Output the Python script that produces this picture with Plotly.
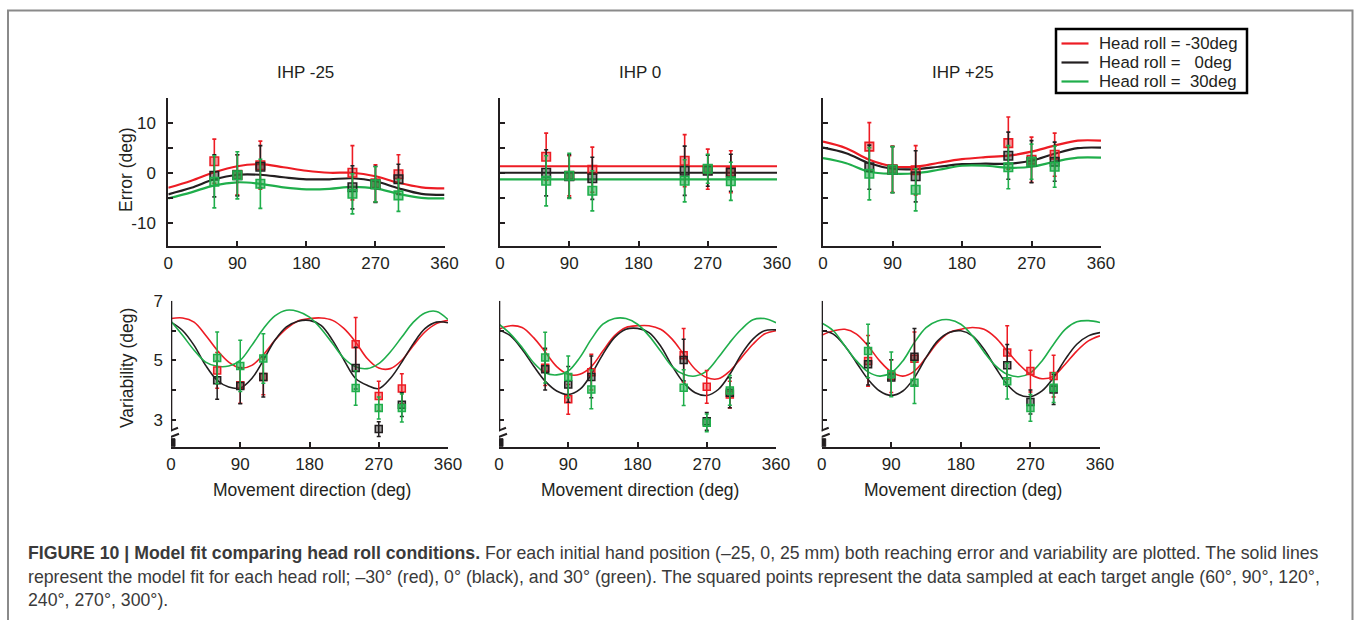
import plotly.graph_objects as go

W, H = 1356, 620

# ---------------- data ----------------
COND = ["Head roll = -30deg", "Head roll =\u00a0\u00a0\u00a00deg", "Head roll =\u00a0\u00a030deg"]
COLORS = ["#ed1c24", "#231f20", "#1fae4b"]
FILLS = ["rgba(237,28,36,0.45)", "rgba(35,31,32,0.45)", "rgba(31,174,75,0.55)"]
PANELS = ["IHP -25", "IHP 0", "IHP +25"]

targets = [60, 90, 120, 240, 270, 300]

# model fit, reaching error (deg)
err_dir = [0, 30, 60, 90, 120, 150, 180, 210, 240, 270, 300, 330, 360]
err_fit_m25 = [
    [-2.9, -1.5, 0.2, 1.4, 1.8, 1.2, 0.5, 0.1, 0.1, -0.6, -1.9, -2.8, -3.0],
    [-4.2, -2.9, -1.2, -0.3, -0.3, -0.8, -1.2, -1.2, -1.0, -1.6, -3.0, -4.1, -4.3],
    [-5.0, -3.8, -2.4, -1.8, -2.1, -2.8, -3.2, -3.1, -2.7, -3.0, -4.1, -4.9, -5.0],
]
err_fit_0 = [
    [1.4] * 13,
    [0.1] * 13,
    [-1.2] * 13,
]
err_fit_p25 = [
    [6.3, 5.0, 2.7, 1.4, 1.3, 2.1, 2.8, 3.2, 3.5, 4.3, 5.5, 6.5, 6.5],
    [5.1, 4.0, 2.0, 0.9, 0.8, 1.3, 1.8, 1.9, 1.9, 2.5, 3.9, 5.0, 5.1],
    [3.0, 2.0, 0.3, -0.1, 0.0, 0.7, 1.5, 1.5, 1.1, 1.3, 2.3, 3.1, 3.1],
]

# measured reaching error (mean, sd)
err_pts_m25 = [
    [2.4, -0.3, 1.6, 0.1, -2.0, -0.2],
    [-0.5, -0.4, 1.3, -2.8, -2.2, -1.2],
    [-1.7, -0.4, -2.1, -4.1, -2.2, -4.4],
]
err_sd_m25 = [
    [4.4, 4.0, 4.8, 5.4, 3.7, 3.9],
    [4.2, 4.1, 4.2, 4.3, 3.6, 3.0],
    [5.2, 4.7, 4.9, 4.0, 3.5, 3.2],
]
err_pts_0 = [
    [3.3, -0.5, 0.7, 2.5, 0.8, 0.3],
    [0.1, -0.6, -1.0, 0.5, 0.5, 0.1],
    [-1.5, -0.5, -3.5, -1.5, 0.9, -1.6],
]
err_sd_0 = [
    [4.7, 4.0, 4.5, 5.2, 4.0, 4.2],
    [4.6, 4.3, 4.2, 4.9, 3.1, 3.7],
    [5.0, 4.5, 4.0, 4.2, 2.9, 3.8],
]
err_pts_p25 = [
    [5.3, 0.8, 0.6, 6.0, 2.7, 3.7],
    [1.2, 0.7, -0.6, 3.5, 2.3, 2.3],
    [-0.1, 0.7, -3.3, 1.2, 2.3, 1.3],
]
err_sd_p25 = [
    [4.8, 4.6, 4.9, 5.2, 4.5, 4.3],
    [4.4, 4.6, 5.1, 4.7, 4.2, 3.9],
    [5.2, 4.6, 4.2, 4.3, 3.5, 4.1],
]

# model fit, variability (deg)
var_dir = [0, 15, 30, 45, 60, 75, 90, 105, 120, 135, 150, 165, 180,
           195, 210, 225, 240, 255, 270, 285, 300, 315, 330, 345, 360]
var_fit_m25 = [
    [6.40, 6.42, 6.28, 5.84, 5.34, 4.94, 4.74, 4.83, 5.19, 5.67, 6.06, 6.32, 6.40,
     6.42, 6.34, 6.06, 5.61, 5.06, 4.74, 4.72, 5.00, 5.50, 5.95, 6.23, 6.34],
    [6.28, 6.00, 5.50, 4.83, 4.33, 4.10, 4.07, 4.39, 5.00, 5.67, 6.12, 6.31, 6.34,
     6.17, 5.67, 5.00, 4.39, 4.16, 4.05, 4.39, 4.94, 5.56, 6.06, 6.28, 6.26],
    [6.31, 5.84, 5.34, 4.94, 4.80, 4.81, 5.00, 5.50, 6.06, 6.49, 6.68, 6.64, 6.45,
     6.06, 5.56, 5.06, 4.78, 4.72, 4.89, 5.28, 5.78, 6.28, 6.59, 6.64, 6.37],
]
var_fit_0 = [
    [6.04, 6.16, 6.10, 5.76, 5.28, 4.79, 4.53, 4.53, 4.79, 5.31, 5.82, 6.10, 6.16,
     6.16, 6.04, 5.71, 5.20, 4.70, 4.42, 4.38, 4.64, 5.09, 5.54, 5.88, 5.99],
    [6.02, 5.82, 5.37, 4.81, 4.30, 3.97, 3.85, 4.02, 4.53, 5.20, 5.76, 6.04, 6.07,
     5.93, 5.48, 4.81, 4.25, 3.91, 3.82, 4.02, 4.53, 5.20, 5.71, 5.99, 6.02],
    [6.21, 5.88, 5.43, 4.92, 4.58, 4.51, 4.64, 5.09, 5.71, 6.21, 6.40, 6.40, 6.21,
     5.82, 5.31, 4.79, 4.53, 4.47, 4.64, 5.09, 5.60, 6.04, 6.36, 6.40, 6.26],
]
var_fit_p25 = [
    [5.84, 5.99, 6.04, 5.88, 5.48, 4.98, 4.61, 4.47, 4.64, 5.09, 5.60, 5.93, 6.04,
     6.10, 6.04, 5.76, 5.31, 4.87, 4.53, 4.38, 4.47, 4.87, 5.31, 5.65, 5.82],
    [5.99, 5.88, 5.48, 4.92, 4.36, 3.97, 3.82, 3.97, 4.42, 5.09, 5.65, 5.93, 5.99,
     5.82, 5.37, 4.75, 4.19, 3.85, 3.78, 3.97, 4.42, 5.03, 5.54, 5.82, 5.93],
    [6.25, 5.99, 5.48, 4.98, 4.61, 4.47, 4.58, 4.98, 5.60, 6.10, 6.32, 6.36, 6.21,
     5.82, 5.28, 4.81, 4.53, 4.45, 4.58, 4.98, 5.54, 6.04, 6.29, 6.33, 6.27],
]

# measured variability (mean, sd)
var_pts_m25 = [
    [4.66, 4.16, 4.44, 5.54, 3.80, 4.05],
    [4.33, 4.14, 4.44, 4.74, 2.69, 3.51],
    [5.08, 4.81, 5.06, 4.07, 3.40, 3.40],
]
var_sd_m25 = [
    [0.60, 0.60, 0.60, 0.90, 0.50, 0.50],
    [0.64, 0.60, 0.67, 0.70, 0.25, 0.40],
    [0.87, 0.86, 0.83, 0.58, 0.37, 0.47],
]
var_pts_0 = [
    [4.75, 3.69, 4.60, 5.17, 4.11, 3.85],
    [4.70, 4.19, 4.44, 5.01, 2.95, 3.91],
    [5.09, 4.44, 4.02, 4.08, 2.90, 3.99],
]
var_sd_0 = [
    [0.60, 0.50, 0.60, 0.90, 0.55, 0.45],
    [0.70, 0.60, 0.70, 0.70, 0.30, 0.50],
    [0.85, 0.70, 0.65, 0.60, 0.30, 0.50],
]
var_pts_p25 = [
    [4.98, 4.47, 5.05, 5.26, 4.64, 4.47],
    [4.87, 4.42, 5.12, 4.83, 3.60, 4.02],
    [5.31, 4.53, 4.25, 4.30, 3.40, 4.08],
]
var_sd_p25 = [
    [0.85, 0.55, 0.90, 0.90, 0.70, 0.70],
    [0.70, 0.60, 0.95, 0.70, 0.40, 0.50],
    [0.90, 0.75, 0.70, 0.60, 0.45, 0.50],
]

err_ticks = [-10, -5, 0, 5, 10, 15]
err_ticktext = ["-10", "", "0", "", "10", ""]
var_ticks = [3, 4, 5, 6, 7]
var_ticktext = ["3", "", "5", "", "7"]
dir_ticks = [0, 90, 180, 270, 360]

# ---------------- layout helpers ----------------
def fx(px):
    return px / W


def fy(py):
    return 1 - py / H


AX = "#231f20"
FONT = "Liberation Sans, Arial, sans-serif"

top_x = [(168.3, 444.5), (500, 777), (823, 1101)]
bot_x = [(171, 448), (499, 776), (821.7, 1100)]
top_y = (98, 245.5)
bot_y = (300.7, 446.7)

fig = go.Figure()

err_fit = [err_fit_m25, err_fit_0, err_fit_p25]
err_pts = [err_pts_m25, err_pts_0, err_pts_p25]
err_sd = [err_sd_m25, err_sd_0, err_sd_p25]
var_fit = [var_fit_m25, var_fit_0, var_fit_p25]
var_pts = [var_pts_m25, var_pts_0, var_pts_p25]
var_sd = [var_sd_m25, var_sd_0, var_sd_p25]

for p in range(3):
    xt = "x" if p == 0 else f"x{p + 1}"
    yt = "y" if p == 0 else f"y{p + 1}"
    xb = f"x{p + 4}"
    yb = f"y{p + 4}"
    for c in range(3):
        fig.add_trace(go.Scatter(
            x=err_dir, y=err_fit[p][c], mode="lines", line=dict(color=COLORS[c], width=2.2, shape="spline"),
            xaxis=xt, yaxis=yt, name=COND[c], showlegend=False, cliponaxis=False,
            hoverinfo="skip"))
    for c in range(3):
        fig.add_trace(go.Scatter(
            x=targets, y=err_pts[p][c], mode="markers",
            marker=dict(symbol="square", size=8.5, color=FILLS[c], line=dict(color=COLORS[c], width=1.6)),
            error_y=dict(type="data", array=err_sd[p][c], color=COLORS[c], thickness=1.6, width=2),
            xaxis=xt, yaxis=yt, showlegend=False, cliponaxis=False))
    for c in range(3):
        fig.add_trace(go.Scatter(
            x=var_dir, y=var_fit[p][c], mode="lines", line=dict(color=COLORS[c], width=1.6, shape="spline"),
            xaxis=xb, yaxis=yb, showlegend=False, cliponaxis=False, hoverinfo="skip"))
    for c in range(3):
        fig.add_trace(go.Scatter(
            x=targets, y=var_pts[p][c], mode="markers",
            marker=dict(symbol="square", size=7, color=FILLS[c], line=dict(color=COLORS[c], width=1.5)),
            error_y=dict(type="data", array=var_sd[p][c], color=COLORS[c], thickness=1.5, width=2),
            xaxis=xb, yaxis=yb, showlegend=False, cliponaxis=False))

tickfont = dict(family=FONT, size=17, color=AX)
layout = dict(
    width=W, height=H, margin=dict(l=0, r=0, t=0, b=0, autoexpand=False),
    paper_bgcolor="white", plot_bgcolor="rgba(0,0,0,0)",
    font=dict(family=FONT, color=AX), showlegend=False,
)

for p in range(3):
    i_top = "" if p == 0 else str(p + 1)
    i_bot = str(p + 4)
    anchor_top = "y" if p == 0 else f"y{p + 1}"
    anchor_xtop = "x" if p == 0 else f"x{p + 1}"
    common_x = dict(range=[0, 360], tickvals=dir_ticks, ticks="inside", ticklen=5, tickwidth=1.5,
                    tickcolor=AX, showline=True, linecolor=AX, linewidth=2, showgrid=False,
                    zeroline=False, tickfont=tickfont, ticklabelstandoff=1, automargin=False)
    layout["xaxis" + i_top] = dict(common_x, domain=[fx(top_x[p][0]), fx(top_x[p][1])], anchor=anchor_top)
    layout["xaxis" + i_bot] = dict(common_x, domain=[fx(bot_x[p][0]), fx(bot_x[p][1])], anchor=f"y{p + 4}")
    layout["yaxis" + i_top] = dict(
        range=[-14.4, 15], domain=[fy(top_y[1]), fy(top_y[0])], anchor=anchor_xtop,
        tickvals=err_ticks, ticktext=err_ticktext if p == 0 else [""] * 6,
        ticks="inside", ticklen=5, tickwidth=1.5, tickcolor=AX, showline=True, linecolor=AX,
        linewidth=2, showgrid=False, zeroline=False, tickfont=tickfont, ticklabelstandoff=7,
        automargin=False)
    layout["yaxis" + i_bot] = dict(
        range=[2.1, 7], domain=[fy(bot_y[1]), fy(bot_y[0])], anchor=f"x{p + 4}",
        tickvals=var_ticks, ticktext=var_ticktext if p == 0 else [""] * 5,
        ticks="inside", ticklen=5, tickwidth=1.5, tickcolor=AX, showline=False,
        showgrid=False, zeroline=False, tickfont=tickfont, ticklabelstandoff=7, automargin=False)

fig.update_layout(**layout)

shapes = []
# broken y axes on variability panels
for p in range(3):
    xr = f"x{p + 4}"
    yr = f"y{p + 4}"
    shapes.append(dict(type="line", xref=xr, yref=yr, x0=0, x1=0, y0=2.62, y1=7,
                       line=dict(color=AX, width=2.6)))
    for (a0, b0, a1, b1) in ((-8, 13, 7, 19), (-7, 7, 8, 13)):
        shapes.append(dict(type="line", xref=xr, yref=yr, xsizemode="pixel", ysizemode="pixel",
                           xanchor=0, yanchor=2.1, x0=a0, x1=a1, y0=b0, y1=b1,
                           line=dict(color=AX, width=2)))
    shapes.append(dict(type="rect", xref=xr, yref=yr, xsizemode="pixel", ysizemode="pixel",
                       xanchor=0, yanchor=2.1, x0=-4, x1=4, y0=0, y1=8,
                       fillcolor=AX, line=dict(color=AX, width=1)))

# outer frame
shapes.append(dict(type="rect", xref="paper", yref="paper", x0=fx(8), x1=fx(1352.5), y0=fy(640), y1=fy(10.5),
                   line=dict(color="#8a8a8a", width=2), fillcolor="rgba(0,0,0,0)", layer="below"))

# legend box (drawn manually)
LEG = dict(x0=1056, x1=1247, y0=29, y1=93)
shapes.append(dict(type="rect", xref="paper", yref="paper", x0=fx(LEG["x0"]), x1=fx(LEG["x1"]),
                   y0=fy(LEG["y1"]), y1=fy(LEG["y0"]), line=dict(color="black", width=2.5),
                   fillcolor="white"))
leg_rows = [43.5, 62.5, 81.5]
for c in range(3):
    shapes.append(dict(type="line", xref="paper", yref="paper", x0=fx(1061.5), x1=fx(1088.5),
                       y0=fy(leg_rows[c]), y1=fy(leg_rows[c]), line=dict(color=COLORS[c], width=2.2)))
fig.update_layout(shapes=shapes)

ann = []
title_x = [305, 640, 963]
for p in range(3):
    ann.append(dict(text=PANELS[p], x=fx(title_x[p]), y=fy(73), xref="paper", yref="paper",
                    showarrow=False, font=dict(family=FONT, size=17, color=AX), xanchor="center", yanchor="middle"))
    ann.append(dict(text="Movement direction (deg)", x=fx((bot_x[p][0] + bot_x[p][1]) / 2 + 2), y=fy(490),
                    xref="paper", yref="paper", showarrow=False,
                    font=dict(family=FONT, size=17.5, color=AX), xanchor="center", yanchor="middle"))
ann.append(dict(text="Error (deg)", x=fx(126), y=fy(170), xref="paper", yref="paper", textangle=-90,
                showarrow=False, font=dict(family=FONT, size=17.5, color=AX), xanchor="center", yanchor="middle"))
ann.append(dict(text="Variability (deg)", x=fx(127), y=fy(368), xref="paper", yref="paper", textangle=-90,
                showarrow=False, font=dict(family=FONT, size=17.5, color=AX), xanchor="center", yanchor="middle"))
for c in range(3):
    ann.append(dict(text=COND[c], x=fx(1097), y=fy(leg_rows[c]), xref="paper", yref="paper",
                    showarrow=False, font=dict(family=FONT, size=16.8, color=AX), xanchor="left", yanchor="middle"))

cap = [
    "<b>FIGURE 10 | Model fit comparing head roll conditions.</b> For each initial hand position (\u201325, 0, 25 mm) both reaching error and variability are plotted. The solid lines",
    "represent the model fit for each head roll; \u201330\u00b0 (red), 0\u00b0 (black), and 30\u00b0 (green). The squared points represent the data sampled at each target angle (60\u00b0, 90\u00b0, 120\u00b0,",
    "240\u00b0, 270\u00b0, 300\u00b0).",
]
cap_y = [553, 577, 600]
for t, yy in zip(cap, cap_y):
    ann.append(dict(text=t, x=fx(26), y=fy(yy), xref="paper", yref="paper", showarrow=False,
                    font=dict(family=FONT, size=17.7, color="#3a3a3a"), xanchor="left", yanchor="middle"))
fig.update_layout(annotations=ann)

fig.write_html("out.html")
